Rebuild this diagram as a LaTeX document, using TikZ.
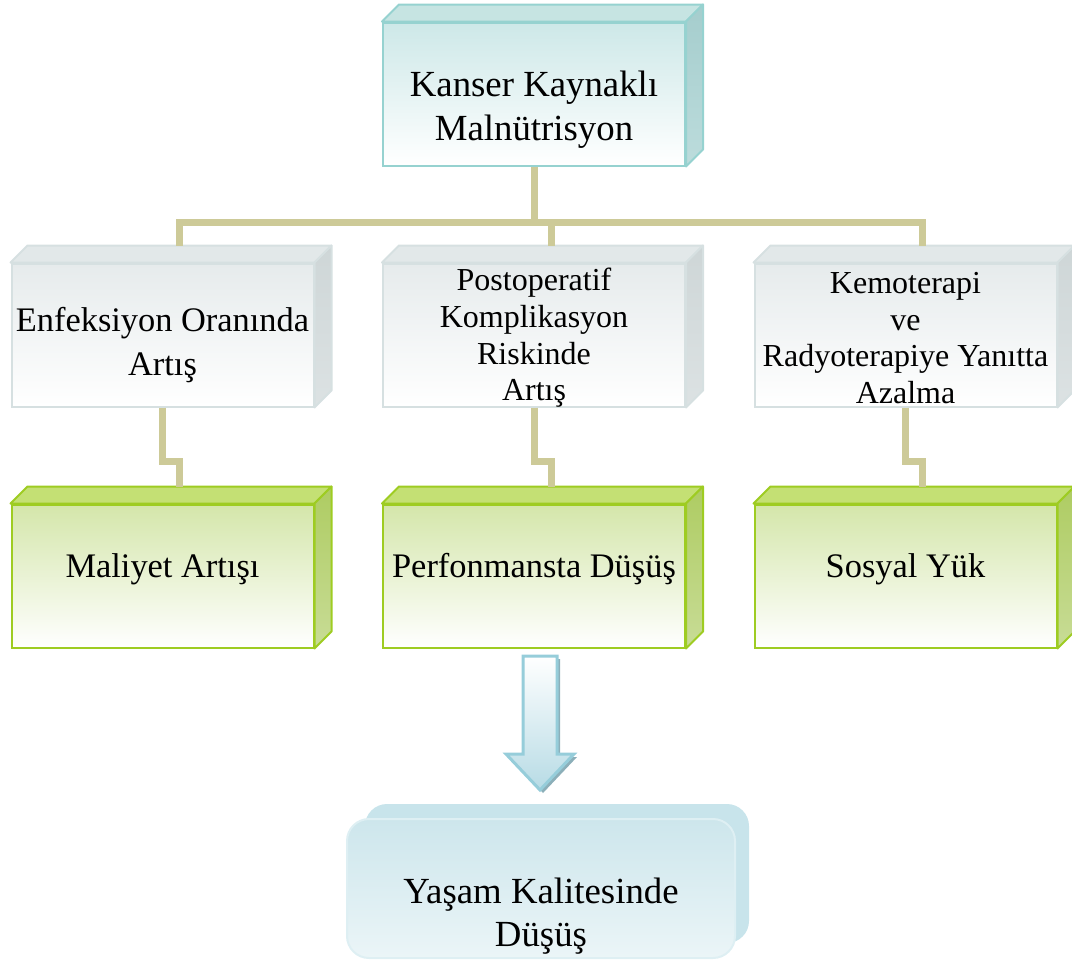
\documentclass[tikz,border=0pt]{standalone}
\usepackage{fontspec}
\setmainfont{Liberation Serif}
\usetikzlibrary{positioning, calc}

\definecolor{linkc}{RGB}{205,202,152}
\definecolor{tealfront}{RGB}{205,232,232}
\definecolor{tealtop}{RGB}{198,228,226}
\definecolor{tealsidea}{RGB}{165,205,205}
\definecolor{tealsideb}{RGB}{188,220,220}
\definecolor{tealline}{RGB}{150,210,208}
\definecolor{grayfront}{RGB}{230,235,236}
\definecolor{graytop}{RGB}{226,232,233}
\definecolor{graysidea}{RGB}{206,214,215}
\definecolor{graysideb}{RGB}{220,226,227}
\definecolor{grayline}{RGB}{214,224,225}
\definecolor{greenfront}{RGB}{212,230,170}
\definecolor{greentop}{RGB}{196,224,116}
\definecolor{greensidea}{RGB}{174,204,98}
\definecolor{greensideb}{RGB}{200,220,150}
\definecolor{greenline}{RGB}{158,204,34}
\definecolor{resback}{RGB}{200,228,235}
\definecolor{resfront}{RGB}{205,230,236}
\definecolor{resline}{RGB}{222,239,243}
\definecolor{arrowfill}{RGB}{183,219,229}
\definecolor{arrowline}{RGB}{150,205,218}
\definecolor{arrowshade}{RGB}{140,175,185}

\tikzset{
  face/.style={minimum width=151pt, minimum height=71.5pt, inner sep=0pt, line width=1pt},
  tealbox/.style={face, draw=tealline, top color=tealfront, bottom color=white},
  graybox/.style={face, draw=grayline, top color=grayfront, bottom color=white},
  greenbox/.style={face, draw=greenline, top color=greenfront, bottom color=white},
  bigtxt/.style={align=center, font=\fontsize{18.4}{22}\selectfont},
  txt/.style={align=center, font=\fontsize{17.2}{22}\selectfont},
  smalltxt/.style={align=center, font=\fontsize{16}{18.3}\selectfont},
  link/.style={draw=linkc, line width=3.5pt},
}

\newcommand{\cubesides}[5]{%
  \draw[line width=1pt, draw=#5, fill=#2, line join=round]
    (#1.north west) -- ++(17,-17) -- ($(#1.north east)+(17,-17)$) -- (#1.north east) -- cycle;
  \draw[line width=1pt, draw=#5, top color=#3, bottom color=#4, line join=round]
    (#1.north east) -- ++(17,-17) -- ($(#1.south east)+(17,-17)$) -- (#1.south east) -- cycle;
}

\begin{document}
\begin{tikzpicture}[x=0.5pt, y=-0.5pt, node distance=120.5pt and 185.75pt, on grid]
  \useasboundingbox (0,0) rectangle (1072,960);

  \node[tealbox] (kanser) at (534,94) {};
  \node[graybox] (post) [below=of kanser] {};
  \node[graybox] (enf) [left=of post] {};
  \node[graybox] (kemo) [right=of post] {};
  \node[greenbox] (perf) [below=of post] {};
  \node[greenbox] (mal) [below=of enf] {};
  \node[greenbox] (sosyal) [below=of kemo] {};

  \cubesides{kanser}{tealtop}{tealsidea}{tealsideb}{tealline}
  \foreach \b in {enf,post,kemo}
    {\cubesides{\b}{graytop}{graysidea}{graysideb}{grayline}}
  \foreach \b in {mal,perf,sosyal}
    {\cubesides{\b}{greentop}{greensidea}{greensideb}{greenline}}

  \draw[link] (kanser.south) -- ++(0,56) coordinate (hub);
  \foreach \b in {enf,post,kemo}
    \draw[link] (hub) -| ($(\b.north)+(17,-17)$);
  \foreach \a/\b in {enf/mal,post/perf,kemo/sosyal}
    \draw[link] (\a.south) -- ++(0,54) -| ($(\b.north)+(17,-17)$);

  \node[bigtxt] (kanser-t) at ($(kanser.center)+(0,16)$) {Kanser Kaynaklı\\Malnütrisyon};
  \node[txt] (enf-t) at ($(enf.center)+(0,10)$) {Enfeksiyon Oranında\\Artış};
  \node[smalltxt] (post-t) at ($(post.center)+(0,3)$) {Postoperatif\\Komplikasyon\\Riskinde\\Artış};
  \node[smalltxt] (kemo-t) at ($(kemo.center)+(0,3)$) {Kemoterapi\\ve\\Radyoterapiye Yanıtta\\Azalma};
  \node[txt] (mal-t) at ($(mal.center)+(0,-7)$) {Maliyet Artışı};
  \node[txt] (perf-t) at ($(perf.center)+(0,-7)$) {Perfonmansta Düşüş};
  \node[txt] (sosyal-t) at ($(sosyal.center)+(0,-7)$) {Sosyal Yük};

  \fill[arrowshade] (526,659) -- (560,659) -- (560,757) -- (577,757) -- (543,793) -- (509,757) -- (526,757) -- cycle;
  \draw[draw=arrowline, line width=1.5pt, top color=white, bottom color=arrowfill, line join=miter]
    (523,656) -- (557,656) -- (557,754) -- (574,754) -- (540,790) -- (506,754) -- (523,754) -- cycle;

  \node[minimum width=192pt, minimum height=69.5pt, inner sep=0pt, rounded corners=11pt,
    fill=resback] (yasam-b) at (557,873.5) {};
  \node[minimum width=194pt, minimum height=69.5pt, inner sep=0pt, rounded corners=11pt,
    line width=1pt, draw=resline, top color=resfront, bottom color=white!60!resfront] (yasam) at (541,888.5) {};
  \node[align=center, font=\fontsize{18.4}{21.5}\selectfont] (yasam-t) at ($(yasam.center)+(0,28)$) {Yaşam Kalitesinde\\Düşüş};
\end{tikzpicture}
\end{document}
